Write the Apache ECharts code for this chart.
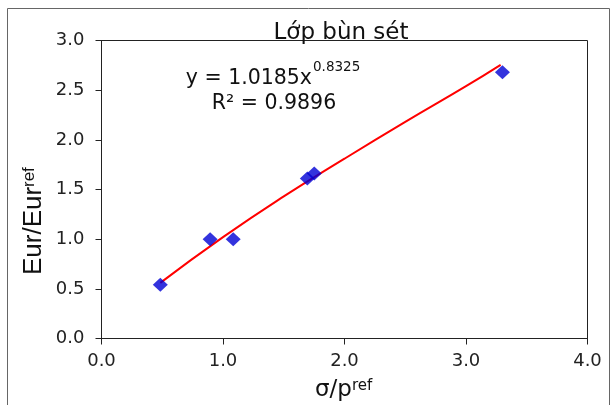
<!DOCTYPE html>
<html><head><meta charset="utf-8">
<script src="https://cdn.jsdelivr.net/npm/echarts@6/dist/echarts.min.js"></script>
<style>html,body{margin:0;padding:0;background:#fff}#c{width:614px;height:405px}</style>
</head><body><div id="c"></div>
<script>
const pointsX = [0.484, 0.894, 1.084, 1.694, 1.751, 3.30];
const pointsY = [0.54, 1.00, 1.00, 1.61, 1.66, 2.68];
const trendX = [0.484, 1.0, 1.5, 2.0, 2.5, 3.0, 3.285];
const trendY = [0.56, 1.02, 1.43, 1.81, 2.18, 2.54, 2.755];
const xTicks = ['0.0','1.0','2.0','3.0','4.0'];
const yTicks = ['0.0','0.5','1.0','1.5','2.0','2.5','3.0'];
const titleText = 'Lớp bùn sét';
const eqMain = 'y = 1.0185x', eqSup = '0.8325', r2Text = 'R² = 0.9896';
const yName = 'Eur/Eur', yNameSup = 'ref';
const xName = 'σ/p', xNameSup = 'ref';

const dv = 'DejaVu Sans, sans-serif';
const lib = 'Liberation Sans, Arial, sans-serif';
const ink = '#111';
function txt(x, y, text, font, size, align, extra) {
  return Object.assign({type:'text', x:x, y:y, silent:true, z:10,
    style:{text:text, fontFamily:font, fontSize:size, fill:ink, align:align, verticalAlign:'middle'}}, extra||{});
}
const chart = echarts.init(document.getElementById('c'), null, {renderer:'canvas'});
chart.setOption({
  animation:false,
  backgroundColor:'#fff',
  grid:{left:101.5, right:26.5, top:40.5, bottom:66.5},
  xAxis:{type:'value', min:0, max:4, interval:1,
    axisLine:{show:true, lineStyle:{color:'#222', width:1}},
    axisTick:{show:true, inside:false, length:6, lineStyle:{color:'#222'}},
    axisLabel:{fontFamily:dv, fontSize:18, color:'#222', margin:14,
      formatter:(v)=>xTicks[Math.round(v)]},
    splitLine:{show:false}
  },
  yAxis:{type:'value', min:0, max:3, interval:0.5,
    axisLine:{show:true, lineStyle:{color:'#222', width:1}},
    axisTick:{show:true, inside:false, length:6, lineStyle:{color:'#222'}},
    axisLabel:{fontFamily:dv, fontSize:18, color:'#222', margin:17,
      formatter:(v)=>yTicks[Math.round(v*2)]},
    splitLine:{show:false}
  },
  graphic:[
    {type:'rect', shape:{x:101.5, y:40.5, width:486, height:298}, style:{fill:'none', stroke:'#222', lineWidth:1}, silent:true, z:-1},
    {type:'rect', shape:{x:7.5, y:8.5, width:602, height:402}, style:{fill:'none', stroke:'#666', lineWidth:1}, silent:true},
    txt(341, 33, titleText, dv, 23, 'center'),
    txt(312, 79, eqMain, dv, 20.5, 'right'),
    txt(313, 67, eqSup, dv, 13.5, 'left'),
    txt(274, 104, r2Text, dv, 20.5, 'center'),
    txt(315, 390, xName, dv, 23, 'left'),
    txt(352, 386, xNameSup, dv, 15, 'left'),
    txt(34, 275, yName, lib, 26, 'left', {rotation:Math.PI/2}),
    txt(29.5, 187, yNameSup, lib, 17, 'left', {rotation:Math.PI/2})
  ],
  series:[
    {type:'line', data:trendX.map((x,i)=>[x,trendY[i]]), smooth:true, symbol:'none',
     lineStyle:{color:'#ff0000', width:2}, z:2},
    {type:'scatter', data:pointsX.map((x,i)=>[x,pointsY[i]]), symbol:'diamond', symbolSize:[15,14],
     itemStyle:{color:'#0000d4'}, z:3}
  ]
});
</script></body></html>
